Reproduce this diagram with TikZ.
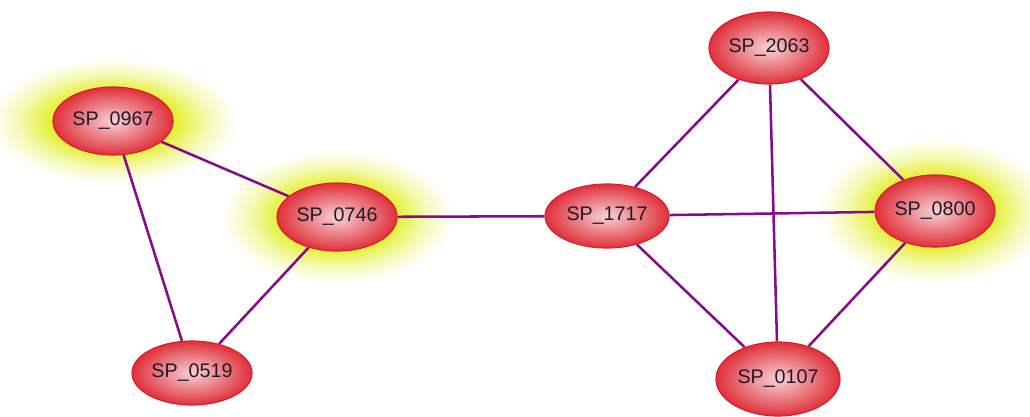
\documentclass[tikz,border=0pt]{standalone}
\usepackage{fontspec}
\setmainfont{Liberation Sans}
\usepackage{xcolor}
\definecolor{protRed}{HTML}{E0303A}
\definecolor{protPink}{HTML}{F7D2D6}
\definecolor{protBorder}{HTML}{D41F2C}
\definecolor{protText}{HTML}{1E1A28}
\definecolor{linkPurple}{HTML}{880A8C}
\definecolor{glowYellow}{HTML}{E6F03C}
\definecolor{glowPale}{HTML}{F5F9B4}
\usepackage{tikz}
\usetikzlibrary{shapes,backgrounds}
\pgfdeclareradialshading{glowfade}{\pgfpoint{0bp}{0bp}}{color(0bp)=(glowYellow); color(13bp)=(glowYellow); color(19bp)=(glowPale); color(25bp)=(white); color(50bp)=(white)}
\tikzset{
    protein/.style={
        ellipse,
        draw=protBorder,
        thick,
        inner color=protPink,
        outer color=protRed,
        inner sep=0pt,
        minimum width=3cm,
        minimum height=1.7cm,
        text=protText,
        font=\fontsize{14}{16}\selectfont
    },
    link/.style={
        draw=linkPurple,
        line width=1.8pt
    },
    glow/.style={
        shading=glowfade
    }
}

\begin{document}
\begin{tikzpicture}[x=0.025cm, y=-0.025cm]
    \useasboundingbox (0,0) rectangle (1030,416);

    % Proteins
    \node[protein] (sp0967) at (113,121) {SP\_0967};
    \node[protein] (sp0746) at (337,217) {SP\_0746};
    \node[protein, minimum height=1.6cm] (sp0519) at (192,373) {SP\_0519};
    \node[protein, minimum width=3.1cm, minimum height=1.6cm] (sp1717) at (607,216) {SP\_1717};
    \node[protein, minimum height=1.8cm] (sp2063) at (769,48) {SP\_2063};
    \node[protein, minimum height=1.8cm] (sp0800) at (935,211) {SP\_0800};
    \node[protein, minimum width=3.1cm, minimum height=1.85cm] (sp0107) at (778,379) {SP\_0107};

    \begin{scope}[on background layer]
        % Highlight glow
        \path[glow] (sp0967.center) ellipse [x radius=3.1cm, y radius=1.55cm];
        \path[glow] (sp0746.center) ellipse [x radius=2.9cm, y radius=1.65cm];
        \path[glow] (sp0800.center) ellipse [x radius=2.9cm, y radius=1.8cm];

        % Interactions
        \foreach \a/\b in {sp0967/sp0746, sp0967/sp0519, sp0746/sp0519,
                           sp0746/sp1717, sp1717/sp2063, sp1717/sp0800,
                           sp1717/sp0107, sp2063/sp0800, sp2063/sp0107,
                           sp0800/sp0107} {
            \draw[link] (\a) -- (\b);
        }
    \end{scope}
\end{tikzpicture}
\end{document}
